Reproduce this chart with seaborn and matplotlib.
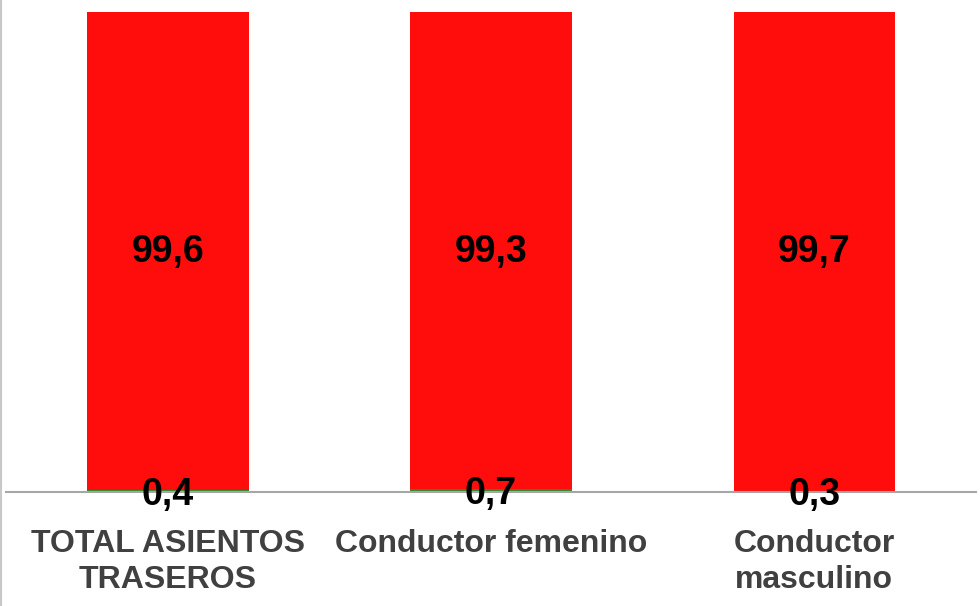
import matplotlib
matplotlib.use("Agg")
import matplotlib.pyplot as plt
from matplotlib.lines import Line2D
import pandas as pd
import seaborn as sns

categorias = ["TOTAL ASIENTOS\nTRASEROS", "Conductor femenino", "Conductor\nmasculino"]
serie_verde = [0.4, 0.7, 0.3]
serie_roja = [99.6, 99.3, 99.7]

sns.set_style("white")
plt.rcParams['font.family'] = ['Liberation Sans', 'DejaVu Sans']

datos = pd.DataFrame({
    "cat": categorias,
    "verde": serie_verde,
    "roja": serie_roja,
})
datos["total"] = datos["verde"] + datos["roja"]

fig = plt.figure(figsize=(9.8, 6.06), dpi=100)
ax = fig.add_axes([6 / 980, 1 - 492 / 606, 970 / 980, 480 / 606])

# apilado: total en rojo y el verde encima desde 0
sns.barplot(data=datos, x="cat", y="total", color="#ff0d0d", width=0.5,
            saturation=1, linewidth=0, ax=ax)
sns.barplot(data=datos, x="cat", y="verde", color="#2e8b2e", width=0.5,
            saturation=1, linewidth=0, ax=ax)

fmt = lambda v: f"{v:.1f}".replace(".", ",")
ax.bar_label(ax.containers[0], labels=[fmt(v) for v in datos["roja"]],
             label_type="center", fontsize=27, fontweight="bold", color="black")
etiquetas_verdes = ax.bar_label(ax.containers[1],
                                labels=[fmt(v) for v in datos["verde"]],
                                label_type="center", fontsize=27,
                                fontweight="bold", color="black")
for t in etiquetas_verdes:
    t.set_y(t.get_position()[1] - 3)

ax.set_xlim(-0.5, 2.5)
ax.set_ylim(0, 100)
ax.set_xlabel("")
ax.set_ylabel("")
ax.set_yticks([])
ax.set_xticks([-0.5, 0.5, 1.5, 2.5], labels=["", "", "", ""])
ax.set_xticks([0, 1, 2], labels=categorias, minor=True, fontweight="bold",
              linespacing=1.25)
ax.tick_params(axis="x", which="major", length=6, width=1.5, color="#a6a6a6",
               direction="out")
ax.tick_params(axis="x", which="minor", length=0, pad=27, labelsize=23,
               labelcolor="#404040")

for s in ["top", "right", "left"]:
    ax.spines[s].set_visible(False)
ax.spines["bottom"].set_color("#a6a6a6")
ax.spines["bottom"].set_linewidth(1.5)

fig.add_artist(Line2D([0.001, 0.001], [0, 1], transform=fig.transFigure,
                      color="#c8c8c8", linewidth=1.5))

fig.savefig("out.png", dpi=100)
